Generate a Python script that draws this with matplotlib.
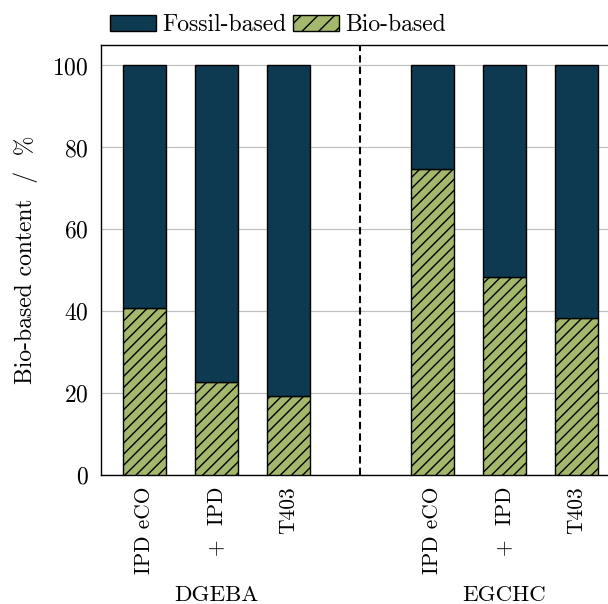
import matplotlib
matplotlib.use("Agg")
import matplotlib.pyplot as plt
from matplotlib.patches import Patch
import matplotlib.transforms as mtransforms

plt.rcParams["font.family"] = ["cmr10", "DejaVu Serif"]
plt.rcParams["axes.formatter.use_mathtext"] = True
plt.rcParams["hatch.linewidth"] = 1.0
plt.rcParams["mathtext.fontset"] = "cm"

# Data
tick_labels = ["IPD eCO", "+  IPD", "T403", "IPD eCO", "+  IPD", "T403"]
positions = [0, 1, 2, 4, 5, 6]
bio_based = [40.8, 22.8, 19.3, 74.7, 48.4, 38.3]
fossil_based = [59.2, 77.2, 80.7, 25.3, 51.6, 61.7]
groups = ["DGEBA", "EGCHC"]
group_centers = [1, 5]
separator = 3

fossil_color = "#0d3a51"
bio_color = "#a3b86c"
fs = 17
fs_cat = 15.4

fig = plt.figure(figsize=(6.08, 6.04), dpi=100)
ax = fig.add_axes([101 / 608, 1 - 475.3 / 604, 518.4 / 608, 430.3 / 604])

ax.bar(positions, bio_based, width=0.6, color=bio_color, edgecolor="black",
       linewidth=1.0, hatch="///", zorder=3)
ax.bar(positions, fossil_based, width=0.6, bottom=bio_based, color=fossil_color,
       edgecolor="black", linewidth=1.0, zorder=3)

ax.axvline(separator, color="black", linewidth=1.5, dashes=(3.5, 2), zorder=4)

ax.set_xlim(-0.6, 6.6)
ax.set_ylim(0, 105)
ax.set_yticks([0, 20, 40, 60, 80, 100])
ax.yaxis.grid(True, color="#c0c0c0", linewidth=0.9, zorder=0)
ax.set_axisbelow(True)
ax.tick_params(axis="y", length=0, labelsize=fs, pad=9)
ax.set_xticks(positions)
ax.set_xticklabels(tick_labels, rotation=90, fontsize=fs_cat)
ax.tick_params(axis="x", length=0, pad=8)
for s in ax.spines.values():
    s.set_linewidth(1.0)
    s.set_color("black")

ax.set_ylabel("Bio-based content  /  %", fontsize=fs, labelpad=10)

trans = mtransforms.blended_transform_factory(ax.transData, ax.transAxes)
for name, cx in zip(groups, group_centers):
    ax.text(cx, -0.278, name, transform=trans, ha="center", va="center", fontsize=16.5)

handles = [
    Patch(facecolor=fossil_color, edgecolor="black", linewidth=1.0, label="Fossil-based"),
    Patch(facecolor=bio_color, edgecolor="black", linewidth=1.0, hatch="//", label="Bio-based"),
]
fig.legend(handles=handles, loc="center left", bbox_to_anchor=(110 / 608, 1 - 25 / 604),
           ncol=2, frameon=False, fontsize=fs, handlelength=1.95, handleheight=0.68,
           handletextpad=0.25, columnspacing=0.3, borderpad=0.0, borderaxespad=0.0)

fig.savefig("out.png", dpi=100)
